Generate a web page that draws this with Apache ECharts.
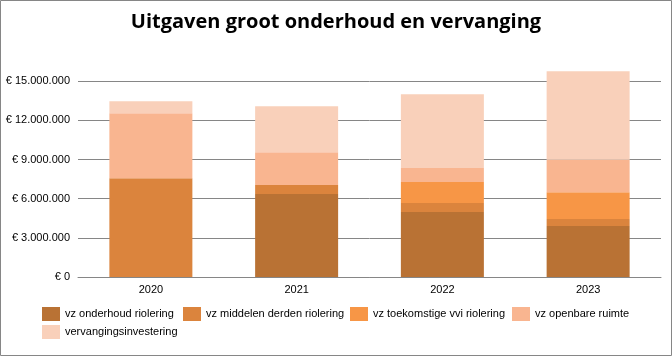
<!DOCTYPE html>
<html>
<head>
<meta charset="utf-8">
<script src="https://cdn.jsdelivr.net/npm/echarts@6/dist/echarts.min.js"></script>
<style>
html,body{margin:0;padding:0;background:#fff;}
#c{width:672px;height:356px;}
</style>
</head>
<body>
<div id="c"></div>
<script>
var categories = ['2020', '2021', '2022', '2023'];
var seriesNames = ['vz onderhoud riolering', 'vz middelen derden riolering', 'vz toekomstige vvi riolering', 'vz openbare ruimte', 'vervangingsinvestering'];
var onderhoud   = [0,       6350000, 4970000, 3900000];
var middelen    = [7570000, 690000,  690000,  540000];
var toekomstige = [0,       0,       1610000, 2060000];
var openbare    = [4980000, 2520000, 1070000, 2480000];
var vervanging  = [920000,  3520000, 5660000, 6780000];
var seriesValues = [onderhoud, middelen, toekomstige, openbare, vervanging];
var colors = ['#B97234', '#DB843D', '#F79646', '#F9B590', '#F9D0BA'];

function fmt(v) {
  if (v === 0) return '€ 0';
  return '€ ' + String(Math.round(v)).replace(/\B(?=(\d{3})+(?!\d))/g, '.');
}

var font = 'Liberation Sans';
var legendLefts = [42, 183, 350, 512, 42];
var legendTops = [307, 307, 307, 307, 325];
var legends = seriesNames.map(function (n, i) {
  return {
    data: [n], left: legendLefts[i], top: legendTops[i], padding: 0,
    itemWidth: 18, itemHeight: 14, itemGap: 0,
    textStyle: {fontFamily: font, fontSize: 11, color: '#000'},
    icon: 'rect'
  };
});

var chart = echarts.init(document.getElementById('c'), null, {renderer: 'canvas'});
chart.setOption({
  animation: false,
  title: {
    text: 'Uitgaven groot onderhoud en vervanging',
    left: 'center', top: 7,
    textStyle: {fontFamily: 'Open Sans', fontWeight: 'bold', fontSize: 20, color: '#000'}
  },
  legend: legends,
  graphic: [{
    type: 'rect', silent: true, z: 100,
    shape: {x: 0.5, y: 0.5, width: 671, height: 355},
    style: {fill: 'none', stroke: '#868686', lineWidth: 1}
  }],
  grid: {left: 78, right: 11, top: 42, bottom: 79},
  xAxis: {
    type: 'category', data: categories,
    axisLine: {lineStyle: {color: '#868686', width: 1}},
    axisTick: {show: false},
    axisLabel: {fontFamily: font, fontSize: 11, color: '#000', margin: 7}
  },
  yAxis: {
    type: 'value', min: 0, max: 18000000, interval: 3000000,
    axisLine: {show: false}, axisTick: {show: false},
    splitLine: {lineStyle: {color: ['#868686', '#868686', '#868686', '#868686', '#868686', '#868686', 'rgba(0,0,0,0)'], width: 1}},
    axisLabel: {fontFamily: font, fontSize: 11, color: '#000', margin: 8, showMaxLabel: false, formatter: fmt}
  },
  series: seriesNames.map(function (n, i) {
    return {
      name: n, type: 'bar', stack: 'total', barWidth: 83,
      data: seriesValues[i],
      itemStyle: {color: colors[i]}
    };
  })
});
</script>
</body>
</html>
